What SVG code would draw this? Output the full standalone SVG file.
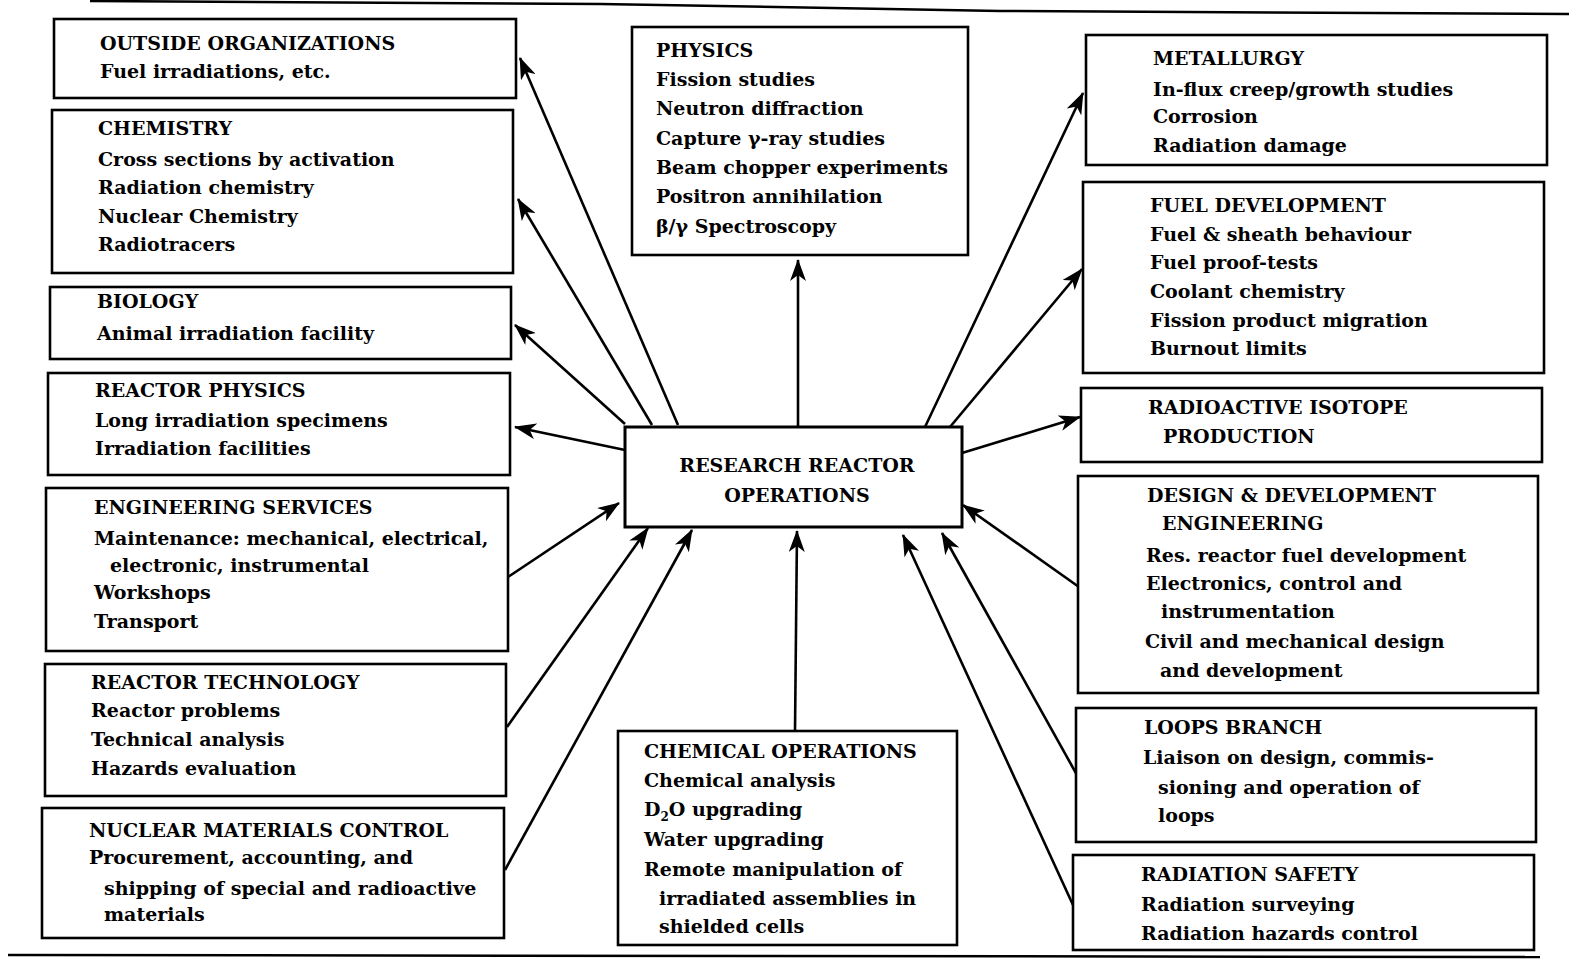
<svg xmlns="http://www.w3.org/2000/svg" width="1569" height="974" viewBox="0 0 1569 974">
<style>
.box{fill:#fff;stroke:#000;stroke-width:2.6}
text{font-family:"DejaVu Serif","Liberation Serif",serif;font-weight:bold;font-size:19px;fill:#000}
.c{stroke:#000;stroke-width:2.6;fill:none}
.rule{stroke:#000;stroke-width:2.5;fill:none}
</style>
<defs>
<marker id="ah" viewBox="0 0 22 16" refX="21" refY="8" markerWidth="22" markerHeight="16" orient="auto" markerUnits="userSpaceOnUse">
<path d="M0,0 L22,8 L0,16 L6,8 Z" fill="#000"/>
</marker>
</defs>
<rect width="1569" height="974" fill="#fff"/>
<polyline class="rule" points="90,1 600,4 1000,11 1569,14"/>
<line class="rule" x1="8" y1="955" x2="1540" y2="957"/>

<g id="connectors">
<line class="c" x1="678" y1="425" x2="520" y2="58" marker-end="url(#ah)"/>
<line class="c" x1="652" y1="425" x2="518" y2="199" marker-end="url(#ah)"/>
<line class="c" x1="625" y1="424" x2="515" y2="325" marker-end="url(#ah)"/>
<line class="c" x1="625" y1="450" x2="515" y2="427" marker-end="url(#ah)"/>
<line class="c" x1="798" y1="427" x2="798" y2="260" marker-end="url(#ah)"/>
<line class="c" x1="925" y1="427" x2="1083" y2="93" marker-end="url(#ah)"/>
<line class="c" x1="950" y1="427" x2="1082" y2="269" marker-end="url(#ah)"/>
<line class="c" x1="962" y1="453" x2="1080" y2="417" marker-end="url(#ah)"/>
<line class="c" x1="508" y1="577" x2="619" y2="503" marker-end="url(#ah)"/>
<line class="c" x1="507" y1="727" x2="648" y2="528" marker-end="url(#ah)"/>
<line class="c" x1="505" y1="870" x2="692" y2="530" marker-end="url(#ah)"/>
<line class="c" x1="795" y1="731" x2="797" y2="531" marker-end="url(#ah)"/>
<line class="c" x1="1079" y1="587" x2="963" y2="505" marker-end="url(#ah)"/>
<line class="c" x1="1077" y1="775" x2="942" y2="533" marker-end="url(#ah)"/>
<line class="c" x1="1073" y1="905" x2="903" y2="535" marker-end="url(#ah)"/>
</g>

<g id="outside">
<rect class="box" x="54" y="19" width="462" height="79"/>
<text x="100" y="50">OUTSIDE ORGANIZATIONS</text>
<text x="100" y="78">Fuel irradiations, etc.</text>
</g>
<g id="chemistry">
<rect class="box" x="52" y="110" width="461" height="163"/>
<text x="98" y="135">CHEMISTRY</text>
<text x="98" y="166">Cross sections by activation</text>
<text x="98" y="194">Radiation chemistry</text>
<text x="98" y="223">Nuclear Chemistry</text>
<text x="98" y="251">Radiotracers</text>
</g>
<g id="biology">
<rect class="box" x="50" y="287" width="461" height="72"/>
<text x="97" y="308">BIOLOGY</text>
<text x="97" y="340">Animal irradiation facility</text>
</g>
<g id="reactor-physics">
<rect class="box" x="48" y="373" width="462" height="102"/>
<text x="95" y="397">REACTOR PHYSICS</text>
<text x="95" y="427">Long irradiation specimens</text>
<text x="95" y="455">Irradiation facilities</text>
</g>
<g id="engineering-services">
<rect class="box" x="46" y="488" width="462" height="163"/>
<text x="94" y="514">ENGINEERING SERVICES</text>
<text x="94" y="545">Maintenance: mechanical, electrical,</text>
<text x="110" y="572">electronic, instrumental</text>
<text x="94" y="599">Workshops</text>
<text x="94" y="628">Transport</text>
</g>
<g id="reactor-technology">
<rect class="box" x="45" y="664" width="461" height="132"/>
<text x="91" y="689">REACTOR TECHNOLOGY</text>
<text x="91" y="717">Reactor problems</text>
<text x="91" y="746">Technical analysis</text>
<text x="91" y="775">Hazards evaluation</text>
</g>
<g id="nuclear-materials">
<rect class="box" x="42" y="808" width="462" height="130"/>
<text x="89" y="837">NUCLEAR MATERIALS CONTROL</text>
<text x="89" y="864">Procurement, accounting, and</text>
<text x="104" y="895">shipping of special and radioactive</text>
<text x="104" y="921">materials</text>
</g>
<g id="physics">
<rect class="box" x="632" y="27" width="336" height="228"/>
<text x="656" y="57">PHYSICS</text>
<text x="656" y="86">Fission studies</text>
<text x="656" y="115">Neutron diffraction</text>
<text x="656" y="145">Capture γ-ray studies</text>
<text x="656" y="174">Beam chopper experiments</text>
<text x="656" y="203">Positron annihilation</text>
<text x="656" y="233">β/γ Spectroscopy</text>
</g>
<g id="center">
<rect class="box" x="625" y="427" width="337" height="100" style="stroke-width:3"/>
<text x="797" y="472" text-anchor="middle">RESEARCH REACTOR</text>
<text x="797" y="502" text-anchor="middle">OPERATIONS</text>
</g>
<g id="chemical-operations">
<rect class="box" x="618" y="731" width="339" height="214"/>
<text x="644" y="758">CHEMICAL OPERATIONS</text>
<text x="644" y="787">Chemical analysis</text>
<text x="644" y="816">D<tspan font-size="12" dy="5">2</tspan><tspan dy="-5">O upgrading</tspan></text>
<text x="644" y="846">Water upgrading</text>
<text x="644" y="876">Remote manipulation of</text>
<text x="659" y="905">irradiated assemblies in</text>
<text x="659" y="933">shielded cells</text>
</g>
<g id="metallurgy">
<rect class="box" x="1086" y="35" width="461" height="130"/>
<text x="1153" y="65">METALLURGY</text>
<text x="1153" y="96">In-flux creep/growth studies</text>
<text x="1153" y="123">Corrosion</text>
<text x="1153" y="152">Radiation damage</text>
</g>
<g id="fuel-development">
<rect class="box" x="1083" y="182" width="461" height="191"/>
<text x="1150" y="212">FUEL DEVELOPMENT</text>
<text x="1150" y="241">Fuel &amp; sheath behaviour</text>
<text x="1150" y="269">Fuel proof-tests</text>
<text x="1150" y="298">Coolant chemistry</text>
<text x="1150" y="327">Fission product migration</text>
<text x="1150" y="355">Burnout limits</text>
</g>
<g id="isotope-production">
<rect class="box" x="1081" y="388" width="461" height="74"/>
<text x="1148" y="414">RADIOACTIVE ISOTOPE</text>
<text x="1163" y="443">PRODUCTION</text>
</g>
<g id="design-development">
<rect class="box" x="1078" y="476" width="460" height="217"/>
<text x="1147" y="502">DESIGN &amp; DEVELOPMENT</text>
<text x="1162" y="530">ENGINEERING</text>
<text x="1146" y="562">Res. reactor fuel development</text>
<text x="1146" y="590">Electronics, control and</text>
<text x="1161" y="618">instrumentation</text>
<text x="1145" y="648">Civil and mechanical design</text>
<text x="1160" y="677">and development</text>
</g>
<g id="loops-branch">
<rect class="box" x="1076" y="708" width="460" height="134"/>
<text x="1144" y="734">LOOPS BRANCH</text>
<text x="1143" y="764">Liaison on design, commis-</text>
<text x="1158" y="794">sioning and operation of</text>
<text x="1158" y="822">loops</text>
</g>
<g id="radiation-safety">
<rect class="box" x="1073" y="855" width="461" height="95"/>
<text x="1141" y="881">RADIATION SAFETY</text>
<text x="1141" y="911">Radiation surveying</text>
<text x="1141" y="940">Radiation hazards control</text>
</g>
</svg>
